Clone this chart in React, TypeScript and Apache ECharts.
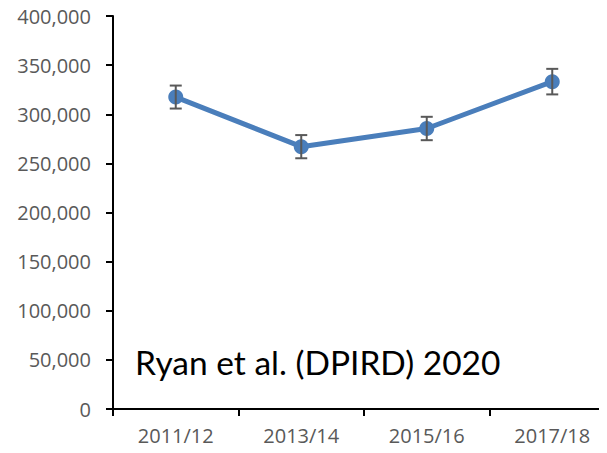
import React, { useEffect, useRef } from "react";
import * as echarts from "echarts";

const categories = ["2011/12", "2013/14", "2015/16", "2017/18"];
const values = [317500, 267000, 285500, 333200];
const errors = [11700, 11800, 11900, 13000];
const yTicks = { min: 0, max: 400000, interval: 50000 };
const noteText = "Ryan et al. (DPIRD) 2020";

export default function App() {
  const ref = useRef<HTMLDivElement>(null);
  useEffect(() => {
    if (!ref.current) return;
    const chart = echarts.init(ref.current, null, { renderer: "svg" });
    const labelFont = "Open Sans";
    chart.setOption({
      animation: false,
      grid: { left: 113, width: 502, top: 16, height: 393, outerBoundsMode: "none", containLabel: false },
      xAxis: {
        type: "category",
        data: categories,
        boundaryGap: true,
        axisLine: { lineStyle: { color: "#000", width: 2 } },
        axisTick: { show: true, length: 7, lineStyle: { color: "#000", width: 2 } },
        axisLabel: { color: "#595959", fontFamily: labelFont, fontSize: 20, margin: 16 },
        splitLine: { show: false },
      },
      yAxis: {
        type: "value",
        min: yTicks.min,
        max: yTicks.max,
        interval: yTicks.interval,
        axisLine: { show: true, lineStyle: { color: "#000", width: 2 } },
        axisTick: { show: true, length: 7, lineStyle: { color: "#000", width: 2 } },
        axisLabel: {
          color: "#595959",
          fontFamily: labelFont,
          fontSize: 20,
          margin: 22,
          formatter: (v: number) => v.toLocaleString("en-US"),
        },
        splitLine: { show: false },
      },
      graphic: [
        {
          type: "text",
          left: 135,
          top: 345,
          style: { text: noteText, fontFamily: "Lato", fontSize: 33.5, fill: "#000" },
        },
      ],
      series: [
        {
          type: "line",
          data: values,
          symbol: "circle",
          symbolSize: 15,
          lineStyle: { color: "#4a7ebb", width: 5 },
          itemStyle: { color: "#4a7ebb" },
          z: 2,
        },
        {
          type: "custom",
          data: values.map((v, i) => [i, v - errors[i], v + errors[i]]),
          z: 3,
          renderItem: (params: any, api: any) => {
            const x = api.value(0);
            const lo = api.coord([x, api.value(1)]);
            const hi = api.coord([x, api.value(2)]);
            const hw = 6;
            const style = { stroke: "#595959", lineWidth: 2 };
            return {
              type: "group",
              children: [
                { type: "line", shape: { x1: lo[0], y1: lo[1], x2: hi[0], y2: hi[1] }, style },
                { type: "line", shape: { x1: lo[0] - hw, y1: lo[1], x2: lo[0] + hw, y2: lo[1] }, style },
                { type: "line", shape: { x1: hi[0] - hw, y1: hi[1], x2: hi[0] + hw, y2: hi[1] }, style },
              ],
            };
          },
        },
      ],
    });
    return () => chart.dispose();
  }, []);
  return <div ref={ref} style={{ width: 607, height: 453, margin: -8 }} />;
}
